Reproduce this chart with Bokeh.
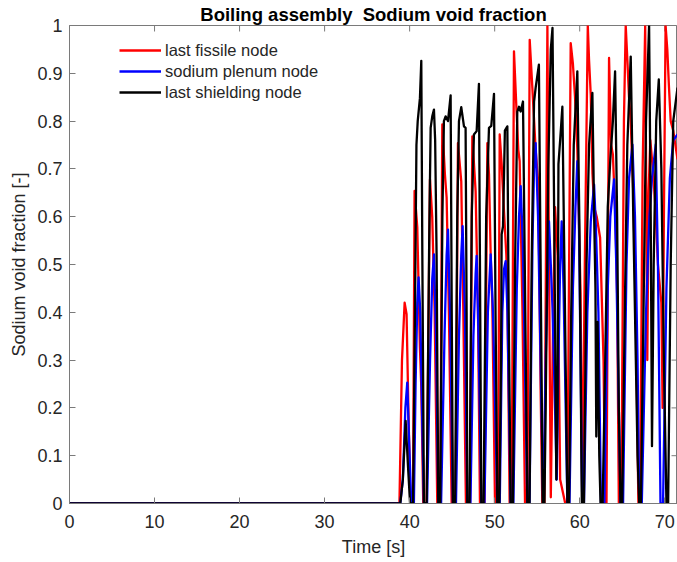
from bokeh.plotting import figure
from bokeh.models import FixedTicker, Range1d, Legend, LegendItem, Title
from bokeh.embed import file_html
from bokeh.resources import INLINE

# ---- data ----
red_t = [0, 38.8, 39.1, 39.41, 39.64, 39.85, 40.1,
         40.4, 40.58, 40.9, 41.21, 41.37, 41.6,
         42.0, 42.39, 42.66, 42.94, 43.25,
         43.6, 43.84, 44.15, 44.35, 44.62, 44.94,
         45.4, 45.68, 46.07, 46.31, 46.62,
         47.1, 47.37, 47.76, 48.03, 48.27,
         48.8, 49.14, 49.33, 49.53, 49.72, 50.04,
         50.4, 50.59, 50.82, 51.1, 51.37, 51.49, 51.76,
         52.0, 52.27, 52.55, 52.78, 52.94, 53.26, 53.57,
         53.85, 54.12, 54.43, 54.82, 55.13, 55.4, 55.6,
         55.85, 56.2, 56.35, 56.6, 56.85, 57.1, 57.4, 57.7, 58.3,
         58.55, 58.94, 59.2, 59.45, 59.72, 60.1, 60.3,
         60.6, 60.95, 61.1, 61.3, 61.5, 61.7, 62.0, 62.4, 62.8, 63.0,
         63.15, 63.45, 63.7, 63.9, 64.2, 64.4, 64.6,
         64.9, 65.2, 65.41, 65.6, 65.8, 66.0, 66.3, 66.6, 66.9,
         67.1, 67.4, 67.7, 67.95, 68.1, 68.3, 68.6, 68.9, 69.2, 69.6, 69.75,
         69.9, 70.1, 70.3, 70.5, 70.7, 71.0, 71.5]
red_v = [0, 0, 0.3, 0.42, 0.396, 0.2, 0,
         0, 0.654, 0.577, 0.326, 0.243, 0,
         0, 0.678, 0.598, 0.403, 0,
         0, 0.793, 0.688, 0.640, 0.396, 0,
         0, 0.754, 0.674, 0.403, 0,
         0, 0.768, 0.653, 0.41, 0,
         0, 0.754, 0.688, 0.52, 0.42, 0,
         0, 0.772, 0.71, 0.61, 0.52, 0.45, 0,
         0, 0.946, 0.83, 0.74, 0.716, 0.41, 0,
         0, 0.97, 0.87, 0.74, 0.67, 0.243, 0,
         0, 1.0, 0.6, 0.013, 0.35, 0.62, 0.52, 0.05, 0,
         0, 0.963, 0.92, 0.85, 0.74, 0.44, 0,
         0.5, 1.0, 0.927, 0.855, 0.69, 0.62, 0.60, 0.556, 0.30, 0,
         0, 0.932, 0.75, 0.73, 0.6, 0.44, 0,
         0, 0.8, 1.0, 0.93, 0.85, 0.8, 0.65, 0.4, 0,
         0, 0.7, 1.0, 0.3, 0.65, 0.76, 0.70, 0.62, 0.5, 0.42, 0.2,
         0.6, 1.0, 0.95, 0.87, 0.8, 0.78, 0.72]

blue_t = [0, 38.9, 39.2, 39.5, 39.72, 39.9, 40.19,
          40.5, 40.7, 40.9, 41.05, 41.25, 41.5, 41.68,
          42.05, 42.4, 42.66, 42.86, 43.1, 43.37,
          43.7, 44.1, 44.35, 44.51, 44.75, 45.09,
          45.45, 45.8, 46.07, 46.23, 46.5, 46.78,
          47.15, 47.5, 47.76, 47.88, 48.1, 48.43,
          48.8, 49.2, 49.53, 49.8, 50.31,
          50.6, 50.9, 51.1, 51.29, 51.5, 51.88,
          52.2, 52.6, 52.86, 53.06, 53.3, 53.84,
          54.1, 54.45, 54.63, 54.82, 55.1, 55.5, 55.7, 55.8, 56.0, 56.39, 56.6,
          56.8, 57.1, 57.3, 57.5, 57.7, 57.88, 58.1, 58.55,
          58.8, 59.2, 59.5, 59.72, 59.9, 60.3,
          60.5, 60.9, 61.3, 61.69, 61.9, 62.2, 62.5,
          62.9, 63.3, 63.6, 64.04, 64.3, 64.8,
          65.1, 65.5, 65.8, 66.2, 66.5, 66.8, 67.0,
          67.3, 67.8, 68.2, 68.5, 68.94, 69.2, 69.5,
          69.8, 70.2, 70.6, 71.0, 71.5]
blue_v = [0, 0, 0.05, 0.2, 0.253, 0.15, 0,
          0, 0.25, 0.42, 0.473, 0.4, 0.15, 0,
          0, 0.3, 0.47, 0.521, 0.35, 0,
          0, 0.35, 0.52, 0.573, 0.4, 0,
          0, 0.35, 0.52, 0.580, 0.4, 0,
          0, 0.35, 0.48, 0.518, 0.35, 0,
          0, 0.4, 0.521, 0.4, 0,
          0, 0.4, 0.49, 0.507, 0.4, 0,
          0, 0.45, 0.6, 0.664, 0.55, 0,
          0, 0.55, 0.7, 0.754, 0.6, 0.2, 0, 0.07, 0.3, 0.59, 0.5,
          0.41, 0.2, 0.05, 0.3, 0.5, 0.59, 0.45, 0,
          0, 0.45, 0.62, 0.716, 0.6, 0,
          0, 0.4, 0.59, 0.667, 0.58, 0.4, 0,
          0, 0.45, 0.6, 0.678, 0.5, 0,
          0, 0.5, 0.68, 0.751, 0.6, 0.3, 0,
          0, 0.4, 0.6, 0.68, 0.751, 0.5, 0,
          0, 0.45, 0.68, 0.76, 0.772]

black_t = [0, 38.9, 39.2, 39.53, 39.8, 40.05,
           40.4, 40.6, 40.8, 40.95, 41.21, 41.37, 41.5, 41.68,
           42.0, 42.3, 42.47, 42.66, 42.86, 43.0, 43.17, 43.37,
           43.6, 43.85, 44.03, 44.23, 44.51, 44.82, 44.95, 45.09,
           45.35, 45.6, 45.80, 46.07, 46.39, 46.58, 46.7, 46.78,
           47.05, 47.3, 47.56, 47.88, 48.15, 48.3, 48.43,
           48.7, 49.0, 49.33, 49.6, 49.92, 50.1, 50.31,
           50.55, 50.75, 50.82, 50.98, 51.2, 51.49, 51.65, 51.88,
           52.15, 52.4, 52.66, 52.86, 53.06, 53.33, 53.6, 53.84,
           54.1, 54.35, 54.63, 54.82, 55.2, 55.45, 55.65, 55.75, 55.85,
           56.0, 56.3, 56.6, 56.8, 57.0, 57.25, 57.4, 57.5, 57.7, 57.96, 58.2, 58.55,
           58.75, 59.0, 59.3, 59.72, 59.95, 60.25,
           60.5, 60.8, 61.1, 61.49, 61.7, 61.85, 61.95, 62.1, 62.3, 62.45,
           62.7, 63.0, 63.3, 63.6, 63.9, 64.16, 64.4, 64.6, 64.8,
           65.0, 65.3, 65.6, 66.0, 66.3, 66.6, 66.8, 67.0,
           67.2, 67.5, 67.8, 68.16, 68.35, 68.5, 68.7, 69.0, 69.3, 69.6, 69.9, 70.2,
           70.4, 70.7, 71.0, 71.5]
black_v = [0, 0, 0.05, 0.173, 0.08, 0,
           0, 0.35, 0.75, 0.80, 0.848, 0.926, 0.5, 0,
           0, 0.55, 0.786, 0.81, 0.824, 0.76, 0.52, 0,
           0, 0.6, 0.80, 0.81, 0.80, 0.854, 0.4, 0,
           0, 0.6, 0.80, 0.829, 0.789, 0.786, 0.4, 0,
           0, 0.6, 0.772, 0.779, 0.878, 0.4, 0,
           0, 0.6, 0.786, 0.79, 0.857, 0.4, 0,
           0, 0.3, 0.563, 0.58, 0.78, 0.789, 0.4, 0,
           0, 0.5, 0.82, 0.83, 0.82, 0.841, 0.4, 0,
           0, 0.5, 0.84, 0.87, 0.918, 0.4, 0, 0.07, 0,
           0.2, 0.7, 0.95, 0.995, 0.6, 0.05, 0.215, 0.71, 0.76, 0.83, 0.5, 0,
           0, 0.4, 0.75, 0.904, 0.6, 0,
           0, 0.5, 0.75, 0.859, 0.6, 0.45, 0.14, 0.38, 0.1, 0,
           0, 0.3, 0.62, 0.72, 0.8, 0.904, 0.6, 0.2, 0,
           0, 0.4, 0.75, 0.935, 0.6, 0.3, 0.1, 0,
           0, 0.4, 0.8, 1.0, 0.6, 0.12, 0.5, 0.8, 0.887, 0.7, 0.3, 0,
           0, 0.5, 0.8, 0.87]

series_names = ["last fissile node", "sodium plenum node", "last shielding node"]
series_colors = ["#ff0000", "#0000ff", "#000000"]

x_ticks = [0, 10, 20, 30, 40, 50, 60, 70]
y_ticks = [0, 0.1, 0.2, 0.3, 0.4, 0.5, 0.6, 0.7, 0.8, 0.9, 1.0]
y_tick_labels = ["0", "0.1", "0.2", "0.3", "0.4", "0.5", "0.6", "0.7", "0.8", "0.9", "1"]

X_MAX = 71.5
FONT = "Liberation Sans"
AX = "#7a7a7a"
TXT = "#262626"

p = figure(width=677, height=562, output_backend="svg", toolbar_location=None,
           x_range=Range1d(0, X_MAX), y_range=Range1d(0, 1),
           min_border_left=69, min_border_right=0, min_border_top=0, min_border_bottom=59)
p.title = Title(text="Boiling assembly\u00a0 Sodium void fraction", align="center",
                text_font=FONT, text_font_size="18.5px", text_font_style="bold",
                text_color="#000000", standoff=2, offset=0)
p.grid.visible = False
p.outline_line_color = AX
p.background_fill_color = "white"
p.border_fill_color = "white"

def style_axis(ax):
    ax.axis_line_color = AX
    ax.major_tick_line_color = AX
    ax.minor_tick_line_color = None
    ax.major_tick_in = 6
    ax.major_tick_out = 0
    ax.major_label_text_font = FONT
    ax.major_label_text_font_size = "18px"
    ax.major_label_text_color = TXT
    ax.axis_label_text_font = FONT
    ax.axis_label_text_font_size = "18px"
    ax.axis_label_text_font_style = "normal"
    ax.axis_label_text_color = TXT

xa = p.xaxis[0]
xa.ticker = FixedTicker(ticks=x_ticks)
xa.axis_label = "Time [s]"
style_axis(xa)
xa.major_label_standoff = 11
xa.axis_label_standoff = 6

ya = p.yaxis[0]
ya.ticker = FixedTicker(ticks=y_ticks)
ya.major_label_overrides = {t: l for t, l in zip(y_ticks, y_tick_labels)}
ya.axis_label = "Sodium void fraction [-]"
style_axis(ya)
ya.major_label_standoff = 7
ya.axis_label_standoff = 5

# box ticks on the top and right edges (MATLAB "box on")
tick_dy = 6 / 479
tick_dx = 6 / (608 / X_MAX)
p.segment(x0=x_ticks, y0=[1] * len(x_ticks), x1=x_ticks, y1=[1 - tick_dy] * len(x_ticks),
          line_color=AX, line_width=1)
p.segment(x0=[X_MAX] * len(y_ticks), y0=y_ticks, x1=[X_MAX - tick_dx] * len(y_ticks), y1=y_ticks,
          line_color=AX, line_width=1)

all_t = [red_t, blue_t, black_t]
all_v = [red_v, blue_v, black_v]
items = []
for name, col, t, v in zip(series_names, series_colors, all_t, all_v):
    r = p.line(t, v, line_color=col, line_width=2.3, line_join="round")
    items.append(LegendItem(label=name, renderers=[r]))

leg = Legend(items=items, location=(50, 401), border_line_alpha=0,
             background_fill_alpha=0, padding=0, margin=0, spacing=1,
             glyph_width=42, glyph_height=20, label_height=20, label_standoff=4,
             label_text_font=FONT, label_text_font_size="16.5px", label_text_color=TXT)
p.add_layout(leg, "center")

open("out.html", "w").write(file_html(p, INLINE))
